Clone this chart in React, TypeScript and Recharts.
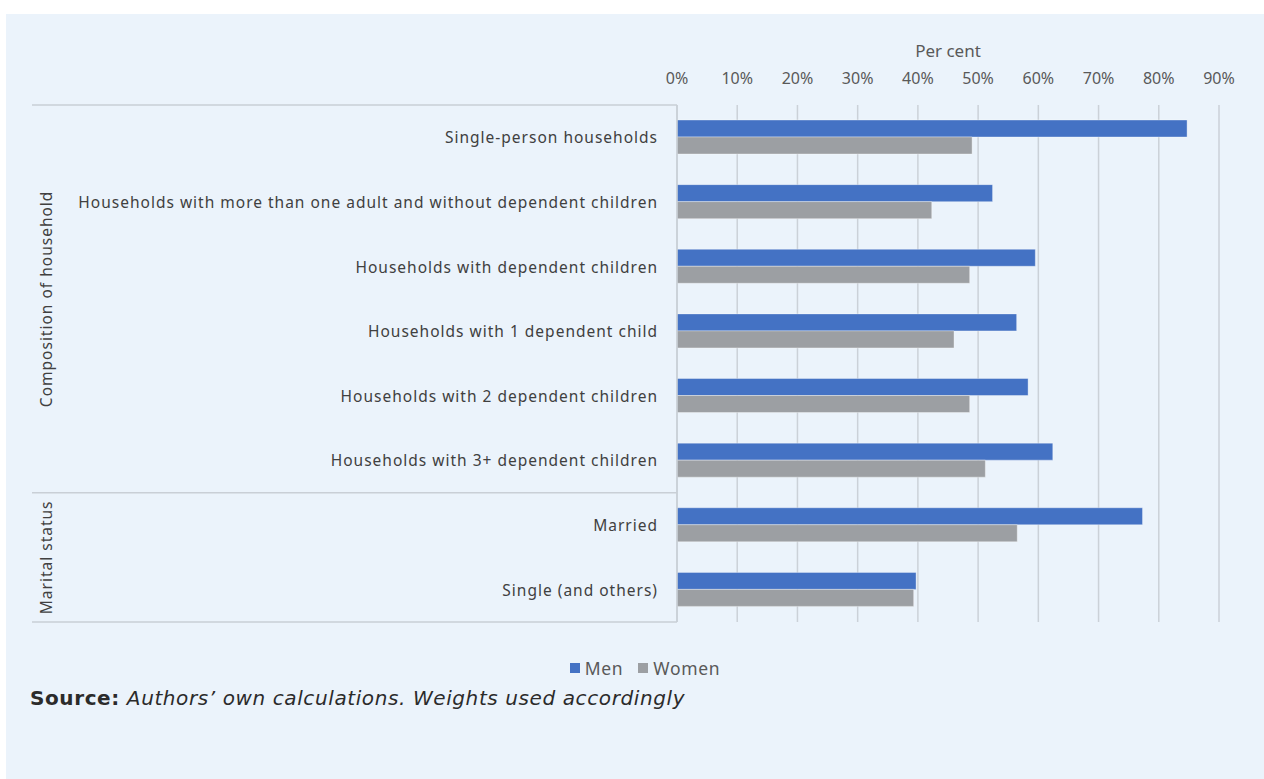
import { BarChart, Bar, XAxis, YAxis, CartesianGrid } from 'recharts'

const categories = [
    'Single-person households',
    'Households with more than one adult and without dependent children',
    'Households with dependent children',
    'Households with 1 dependent child',
    'Households with 2 dependent children',
    'Households with 3+ dependent children',
    'Married',
    'Single (and others)',
]
const men = [84.7, 52.4, 59.5, 56.4, 58.3, 62.4, 77.3, 39.7]
const women = [49.0, 42.3, 48.6, 46.0, 48.6, 51.2, 56.5, 39.3]
const groupNames = ['Composition of household', 'Marital status']
const groupSizes = [6, 2]
const xTicks = [0, 10, 20, 30, 40, 50, 60, 70, 80, 90]
const seriesNames = ['Men', 'Women']
const seriesColors = ['#4472C4', '#9C9FA3']

const data = categories.map((name, i) => ({ name, men: men[i], women: women[i] }))

const W = 1258
const H = 620
const YAXIS_W = 671
const TOP = 51
const XAXIS_H = 40
const BOTTOM = 12
const PLOT_H = H - TOP - XAXIS_H - BOTTOM
const LINE_X = 26
const GROUP_X = 40
const FONT = '"Noto Sans", "Open Sans", sans-serif'

const groupStarts = groupSizes.map((_, g) =>
    groupSizes.slice(0, g).reduce((a, b) => a + b, 0)
)

const CategoryTick = (props: any) => {
    const { y, payload } = props
    const i = categories.indexOf(payload.value)
    const band = PLOT_H / categories.length
    const g = groupStarts.indexOf(i)
    return (
        <g>
            <text
                x={YAXIS_W - 19}
                y={y}
                textAnchor="end"
                dominantBaseline="central"
                fill="#404040"
                fontSize={15.5}
                letterSpacing={1}
                fontFamily={FONT}
            >
                {payload.value}
            </text>
            {g >= 0 && (
                <>
                    <line
                        x1={LINE_X}
                        x2={YAXIS_W}
                        y1={y - band / 2}
                        y2={y - band / 2}
                        stroke="#C9CFD6"
                        strokeWidth={1.5}
                    />
                    <text
                        transform={`translate(${GROUP_X}, ${y + ((groupSizes[g] - 1) * band) / 2}) rotate(-90)`}
                        textAnchor="middle"
                        dominantBaseline="central"
                        fill="#404040"
                        fontSize={15.5}
                        letterSpacing={1}
                        fontFamily={FONT}
                    >
                        {groupNames[g]}
                    </text>
                </>
            )}
            {i === categories.length - 1 && (
                <line
                    x1={LINE_X}
                    x2={YAXIS_W}
                    y1={y + band / 2}
                    y2={y + band / 2}
                    stroke="#C9CFD6"
                    strokeWidth={1.5}
                />
            )}
        </g>
    )
}

const App = () => {
    return (
        <div
            style={{
                position: 'absolute',
                left: 6,
                top: 14,
                width: W,
                height: 765,
                background: '#EBF3FB',
                fontFamily: FONT,
            }}
        >
            <BarChart
                width={W}
                height={H}
                data={data}
                layout="vertical"
                barSize={17}
                barGap={0}
                margin={{ top: TOP, right: 45, bottom: BOTTOM, left: 0 }}
            >
                <CartesianGrid horizontal={false} stroke="#CBD1D8" strokeWidth={1.5} />
                <XAxis
                    type="number"
                    orientation="top"
                    domain={[0, 90]}
                    ticks={xTicks}
                    height={XAXIS_H}
                    axisLine={false}
                    tickLine={false}
                    tickMargin={15}
                    tickFormatter={(v) => `${v}%`}
                    tick={{ fill: '#595959', fontSize: 16, fontFamily: FONT }}
                    label={{
                        value: 'Per cent',
                        position: 'top',
                        offset: 8,
                        fill: '#595959',
                        fontSize: 17,
                        fontFamily: FONT,
                    }}
                />
                <YAxis
                    type="category"
                    dataKey="name"
                    width={YAXIS_W}
                    tickLine={false}
                    axisLine={{ stroke: '#C9CFD6', strokeWidth: 1.5 }}
                    tick={<CategoryTick />}
                    interval={0}
                />
                <Bar
                    dataKey="men"
                    name={seriesNames[0]}
                    fill={seriesColors[0]}
                    stroke="rgba(255,255,255,0.35)"
                    isAnimationActive={false}
                />
                <Bar
                    dataKey="women"
                    name={seriesNames[1]}
                    fill={seriesColors[1]}
                    stroke="rgba(255,255,255,0.35)"
                    isAnimationActive={false}
                />
            </BarChart>
            <div
                style={{
                    position: 'absolute',
                    top: 642,
                    left: 10,
                    width: W,
                    display: 'flex',
                    justifyContent: 'center',
                    gap: 15,
                    fontSize: 17.5,
                    letterSpacing: 0.7,
                    color: '#595959',
                }}
            >
                {seriesNames.map((n, i) => (
                    <span key={n} style={{ display: 'flex', alignItems: 'center', gap: 5 }}>
                        <span
                            style={{
                                display: 'inline-block',
                                width: 10,
                                height: 10,
                                background: seriesColors[i],
                            }}
                        />
                        {n}
                    </span>
                ))}
            </div>
            <div
                style={{
                    position: 'absolute',
                    top: 672,
                    left: 24,
                    fontSize: 20,
                    letterSpacing: 0.6,
                    color: '#2B2B2B',
                    fontFamily: '"DejaVu Sans", sans-serif',
                }}
            >
                <b>Source:</b> <i>Authors’ own calculations. Weights used accordingly</i>
            </div>
        </div>
    )
}

export default App
